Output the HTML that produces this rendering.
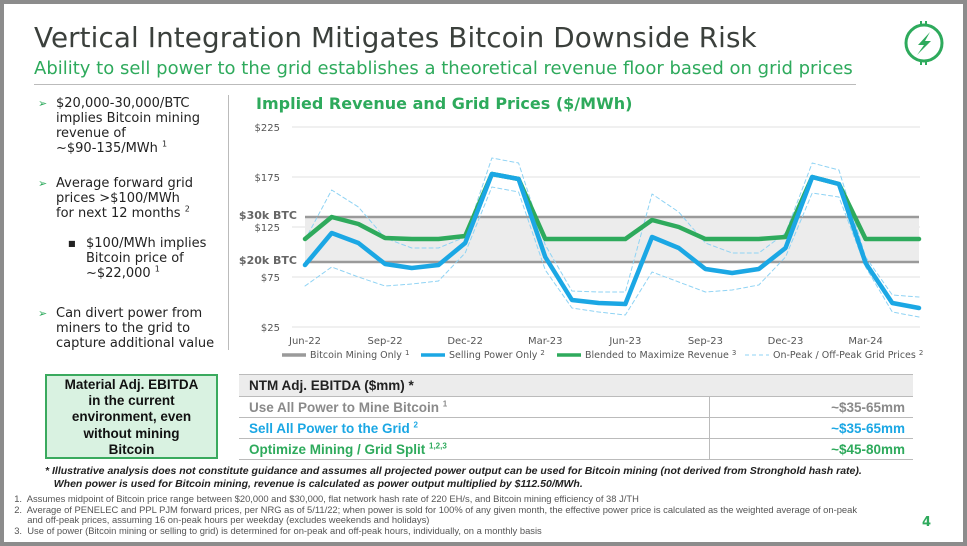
<!DOCTYPE html>
<html><head><meta charset="utf-8"><style>
*{margin:0;padding:0;box-sizing:border-box}
body{width:967px;height:546px;background:#8c8c8c;position:relative;overflow:hidden;font-family:"DejaVu Sans","Liberation Sans",sans-serif}
#slide{position:absolute;left:4px;top:4px;width:959px;height:538px;background:#fff}
.abs{position:absolute}
.t{color:#3b403c;font-size:27.8px;left:30px;top:17px;white-space:nowrap;letter-spacing:0.1px}
.st{color:#2eaa5c;font-size:18px;left:30px;top:54px;white-space:nowrap}
.bul{font-size:13px;color:#222;line-height:15px}
.bul .a{color:#2eaa5c;position:absolute;left:-18px;font-size:11px}
sup{font-size:8px;line-height:0;vertical-align:super}
.fn{font-size:9.4px;color:#555;font-family:"Liberation Sans",sans-serif}
.row{position:absolute;left:239px;width:674px;height:21px;border-bottom:1px solid #bbb;font-family:"Liberation Sans",sans-serif;font-weight:bold;font-size:13.5px;line-height:21px}
.row span{position:absolute;left:10px;white-space:nowrap}
.row b{position:absolute;right:8px}
</style></head><body>
<div id="slide">
<div class="abs t">Vertical Integration Mitigates Bitcoin Downside Risk</div>
<div class="abs st">Ability to sell power to the grid establishes a theoretical revenue floor based on grid prices</div>
<div class="abs" style="left:30px;top:80px;width:822px;height:1px;background:#bbb"></div>
<svg class="abs" style="left:899px;top:16px" width="42" height="46" viewBox="0 0 42 46">
<circle cx="21" cy="23" r="18" fill="none" stroke="#2eaa5c" stroke-width="3"/>
<rect x="17" y="1" width="2" height="5" fill="#2eaa5c"/><rect x="22" y="1" width="2" height="5" fill="#2eaa5c"/>
<rect x="17" y="40" width="2" height="5" fill="#2eaa5c"/><rect x="22" y="40" width="2" height="5" fill="#2eaa5c"/>
<path d="M27 12 L15 25 L21 25 L14 35 L28 21 L22 21 Z" fill="#2eaa5c"/></svg>
<div class="abs" style="left:224px;top:91px;width:1px;height:255px;background:#bbb"></div>

<div class="abs bul" style="left:52px;top:92px;width:156px"><span class="a">➢</span>$20,000-30,000/BTC implies Bitcoin mining revenue of<br>~$90-135/MWh&nbsp;<sup>1</sup></div>
<div class="abs bul" style="left:52px;top:172px;width:156px"><span class="a">➢</span>Average forward grid prices &gt;$100/MWh<br>for next 12 months&nbsp;<sup>2</sup></div>
<div class="abs bul" style="left:82px;top:232px;width:130px"><span class="a" style="color:#222;font-size:8px">■</span>$100/MWh implies Bitcoin price of<br>~$22,000&nbsp;<sup>1</sup></div>
<div class="abs bul" style="left:52px;top:302px;width:165px"><span class="a">➢</span>Can divert power from miners to the grid to capture additional value</div>

<div class="abs" style="left:252px;top:90px;font-size:16px;font-weight:bold;color:#2eaa5c;font-family:'DejaVu Sans',sans-serif">Implied Revenue and Grid Prices ($/MWh)</div>
</div>
<svg id="chart" class="abs" style="left:0;top:0" width="967" height="370"></svg>

<div class="abs" style="left:45px;top:374px;width:173px;height:85px;background:#d9f2e1;border:2px solid #3aaa5e;text-align:center;font-family:'Liberation Sans',sans-serif;font-weight:bold;font-size:13.5px;line-height:16.2px;padding-top:1px;color:#111;white-space:nowrap">Material Adj. EBITDA<br>in the current<br>environment, even<br>without mining<br>Bitcoin</div>
<div class="row" style="top:374px;height:23px;background:#ececec;border-top:1px solid #bbb;color:#222;line-height:22px"><span>NTM Adj. EBITDA ($mm) *</span></div>
<div class="row" style="top:397px;color:#8a8a8a"><span>Use All Power to Mine Bitcoin <sup>1</sup></span><b>~$35-65mm</b></div>
<div class="row" style="top:418px;color:#1ba7e4"><span>Sell All Power to the Grid <sup>2</sup></span><b>~$35-65mm</b></div>
<div class="row" style="top:439px;color:#2eaa5c"><span>Optimize Mining / Grid Split <sup>1,2,3</sup></span><b>~$45-80mm</b></div>
<div class="abs" style="left:709px;top:397px;width:1px;height:63px;background:#bbb"></div>

<div class="abs" style="left:45px;top:465px;font-family:'Liberation Sans',sans-serif;font-weight:bold;font-style:italic;font-size:10.5px;line-height:13px;color:#222;white-space:nowrap">* Illustrative analysis does not constitute guidance and assumes all projected power output can be used for Bitcoin mining (not derived from Stronghold hash rate).<br>&nbsp;&nbsp;&nbsp;When power is used for Bitcoin mining, revenue is calculated as power output multiplied by $112.50/MWh.</div>
<div class="abs fn" style="left:9px;top:494px;line-height:10.5px;white-space:nowrap">
&nbsp;&nbsp;1.&nbsp; Assumes midpoint of Bitcoin price range between $20,000 and $30,000, flat network hash rate of 220 EH/s, and Bitcoin mining efficiency of 38 J/TH<br>
&nbsp;&nbsp;2.&nbsp; Average of PENELEC and PPL PJM forward prices, per NRG as of 5/11/22; when power is sold for 100% of any given month, the effective power price is calculated as the weighted average of on-peak<br>
&nbsp;&nbsp;&nbsp;&nbsp;&nbsp;&nbsp; and off-peak prices, assuming 16 on-peak hours per weekday (excludes weekends and holidays)<br>
&nbsp;&nbsp;3.&nbsp; Use of power (Bitcoin mining or selling to grid) is determined for on-peak and off-peak hours, individually, on a monthly basis</div>
<div class="abs" style="left:922px;top:515px;color:#2eaa5c;font-weight:bold;font-size:13px">4</div>

<script>
const months=["Jun-22","Jul-22","Aug-22","Sep-22","Oct-22","Nov-22","Dec-22","Jan-23","Feb-23","Mar-23","Apr-23","May-23","Jun-23","Jul-23","Aug-23","Sep-23","Oct-23","Nov-23","Dec-23","Jan-24","Feb-24","Mar-24","Apr-24","May-24"];
const blended=[113,135,128,114,113,113,116,178,173,113,113,113,113,132,125,113,113,113,115,175,168,113,113,113];
const selling=[87,119,109,88,84,87,109,178,173,95,52,49,48,115,104,83,79,83,104,175,168,89,49,44];
const onPeak=[112,162,145,114,104,104,115,194,189,107,61,60,60,158,140,109,99,99,119,189,182,95,57,55];
const offPeak=[66,85,75,66,68,71,99,165,160,82,44,40,37,80,70,60,62,67,95,159,155,85,40,35];
const btcBand=[90,135];
const yTicks=[25,75,125,175,225];
const xTickIdx=[0,3,6,9,12,15,18,21];
const svg=document.getElementById('chart');const NS='http://www.w3.org/2000/svg';
const X=i=>305+i*(614/(months.length-1));
const Y=v=>327-(v-25)*1.0;
function mk(t,a,p){const e=document.createElementNS(NS,t);for(const k in a)e.setAttribute(k,a[k]);(p||svg).appendChild(e);return e;}
for(const v of yTicks){
 const g=mk('line',{x1:292,x2:920,y1:Y(v),y2:Y(v),stroke:'#e2e2e2','stroke-width':1});
 
 
 const t=mk('text',{x:280,y:Y(v)+4,'text-anchor':'end','font-size':10,fill:'#555','font-family':'DejaVu Sans,sans-serif'});t.textContent='$'+v;
 
 
}
const band=mk('rect',{x:X(0),y:Y(btcBand[1]),width:X(months.length-1)-X(0),height:Y(btcBand[0])-Y(btcBand[1]),fill:'#ececec'});


btcBand.forEach((v,k)=>{
 const l=mk('line',{x1:X(0),x2:X(months.length-1),y1:Y(v),y2:Y(v),stroke:'#9a9a9a','stroke-width':2.5});
 
 
 const t=mk('text',{x:297,y:Y(v)+2,'text-anchor':'end','font-size':11,'font-weight':'bold',fill:'#666','font-family':'DejaVu Sans,sans-serif'});t.textContent=k?'$30k BTC':'$20k BTC';
 
 
});
function line(d,st,w,dash,name){const p=mk('polyline',{points:d.map((v,i)=>X(i)+','+Y(v)).join(' '),fill:'none',stroke:st,'stroke-width':w,'stroke-linejoin':'round','stroke-linecap':'round'});if(dash)p.setAttribute('stroke-dasharray',dash);
 
 }
line(onPeak,'#8fd3f4',1,'4 3','on-peak-line');
line(offPeak,'#8fd3f4',1,'4 3','off-peak-line');
line(blended,'#2eaa5c',4.5,null,'blended-line');
line(selling,'#1ba7e4',4.5,null,'selling-power-line');
for(const i of xTickIdx){const t=mk('text',{x:X(i),y:344,'text-anchor':'middle','font-size':10,fill:'#555','font-family':'DejaVu Sans,sans-serif'});t.textContent=months[i];
 
 }
const leg=[["Bitcoin Mining Only","1",282,'#9a9a9a',null],["Selling Power Only","2",421,'#1ba7e4',null],["Blended to Maximize Revenue","3",557,'#2eaa5c',null],["On-Peak / Off-Peak Grid Prices","2",745,'#8fd3f4','4 3']];
for(const [lab,sup,x,c,d] of leg){const l=mk('line',{x1:x,x2:x+24,y1:355,y2:355,stroke:c,'stroke-width':d?1:3.5});if(d)l.setAttribute('stroke-dasharray',d);
 
 
 const t=mk('text',{x:x+28,y:358,'font-size':9.5,fill:'#555','font-family':'DejaVu Sans,sans-serif'});t.textContent=lab+' ';const s=mk('tspan',{dy:-3,'font-size':7},t);s.textContent=sup;
 
 }
</script>
</body></html>
